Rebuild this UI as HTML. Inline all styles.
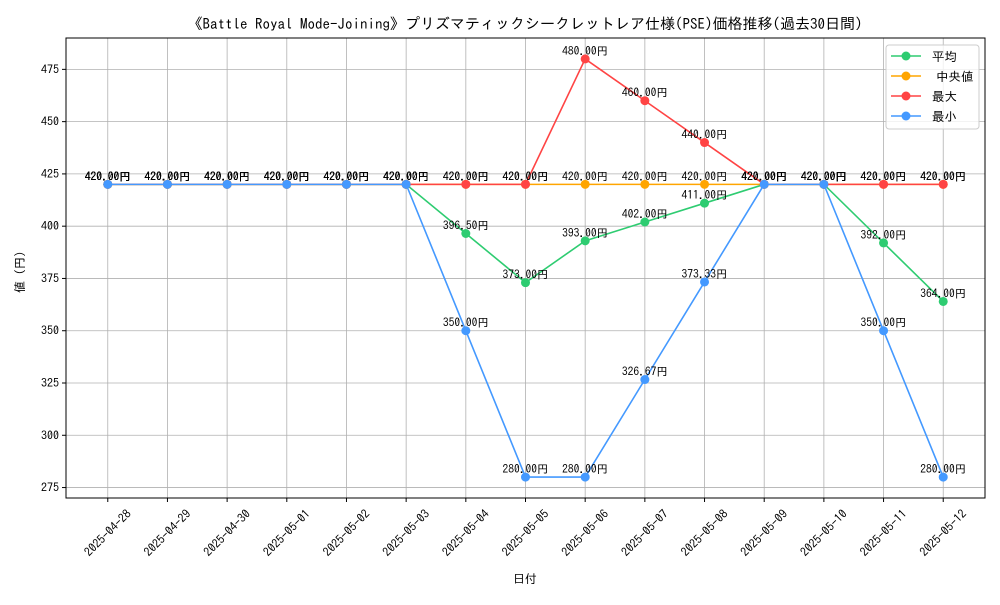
<!DOCTYPE html>
<html><head><meta charset="utf-8"><style>
body{margin:0;background:#fff}
svg text{font-family:"IPAGothic","Liberation Mono","Noto Sans CJK JP",monospace;}
</style></head><body>
<svg id="chart" width="1000" height="600" xmlns="http://www.w3.org/2000/svg">
<text x="525" y="29" text-anchor="middle" font-size="15">《Battle Royal Mode-Joining》プリズマティックシークレットレア仕様(PSE)価格推移(過去30日間)</text>
<g id="grid"></g>
<g id="axes"></g>
<g id="series"></g>
<rect x="66" y="38" width="919" height="460" fill="none" stroke="#000" stroke-width="1"/>
<text x="525" y="583" text-anchor="middle" font-size="12">日付</text>
<text x="24" y="272" text-anchor="middle" font-size="12" transform="rotate(-90 24 272)">値 (円)</text>
<g id="legend"></g>
</svg>
<script>
const categories=["2025-04-28","2025-04-29","2025-04-30","2025-05-01","2025-05-02","2025-05-03","2025-05-04","2025-05-05","2025-05-06","2025-05-07","2025-05-08","2025-05-09","2025-05-10","2025-05-11","2025-05-12"];
const meanVals=[420,420,420,420,420,420,396.5,373,393,402,411,420,420,392,364];
const medianVals=[420,420,420,420,420,420,420,420,420,420,420,420,420,420,420];
const maxVals=[420,420,420,420,420,420,420,420,480,460,440,420,420,420,420];
const minVals=[420,420,420,420,420,420,350,280,280,326.67,373.33,420,420,350,280];
const yTicks=[275,300,325,350,375,400,425,450,475];
const seriesNames=["平均","中央値","最大","最小"];
const colors=["#2ecc71","#ffa500","#ff4444","#4499ff"];
const L=66,R=985,T=38,B=498,ymin=270,ymax=490;
const xs=i=>L+(i+0.7)/(categories.length-1+1.4)*(R-L);
const ys=v=>B-(v-ymin)/(ymax-ymin)*(B-T);
const NS="http://www.w3.org/2000/svg";
function mk(tag,attrs,parent,txt){const e=document.createElementNS(NS,tag);for(const k in attrs)e.setAttribute(k,attrs[k]);if(txt!==undefined)e.textContent=txt;parent.appendChild(e);return e;}
const grid=document.getElementById('grid'),axes=document.getElementById('axes'),ser=document.getElementById('series'),leg=document.getElementById('legend');
categories.forEach((c,i)=>{const x=xs(i);
 const g=mk('line',{x1:x,x2:x,y1:T,y2:B,stroke:'#b0b0b0','stroke-width':0.8},grid);
 
 mk('line',{x1:x,x2:x,y1:B,y2:B+4,stroke:'#000'},axes);
 const cy=B+35;
 const t=mk('text',{x:x,y:cy+4,'font-size':12,'text-anchor':'middle',transform:`rotate(-45 ${x} ${cy})`},axes,c);
 
});
yTicks.forEach(v=>{const y=ys(v);
 const g=mk('line',{x1:L,x2:R,y1:y,y2:y,stroke:'#b0b0b0','stroke-width':0.8},grid);
 
 mk('line',{x1:L-4,x2:L,y1:y,y2:y,stroke:'#000'},axes);
 const t=mk('text',{x:L-7,y:y+4,'font-size':12,'text-anchor':'end'},axes,v);
 
});
const all=[meanVals,medianVals,maxVals,minVals];
all.forEach((vals,s)=>{
 const pts=vals.map((v,i)=>xs(i)+','+ys(v)).join(' ');
 const pl=mk('polyline',{points:pts,fill:'none',stroke:colors[s],'stroke-width':1.6},ser);
 
 vals.forEach((v,i)=>{
  const c=mk('circle',{cx:xs(i),cy:ys(v),r:4.5,fill:colors[s]},ser);
  
 });
});
all.forEach((vals,s)=>{vals.forEach((v,i)=>{
  const t=mk('text',{x:xs(i),y:ys(v)-4,'font-size':11.5,'text-anchor':'middle'},ser,v.toFixed(2)+'円');
  
});});
const lb=mk('rect',{x:886,y:45,width:93,height:84,rx:3,fill:'#fff','fill-opacity':0.8,stroke:'#ccc'},leg);

seriesNames.forEach((n,s)=>{const y=56+s*20;
 const g=mk('g',{},leg);
 mk('line',{x1:891,x2:921,y1:y,y2:y,stroke:colors[s],'stroke-width':1.6},g);
 mk('circle',{cx:906,cy:y,r:4.5,fill:colors[s]},g);
 mk('text',{x:s==1?936:932,y:y+5,'font-size':12.5},g,n);
});
</script>
</body></html>
